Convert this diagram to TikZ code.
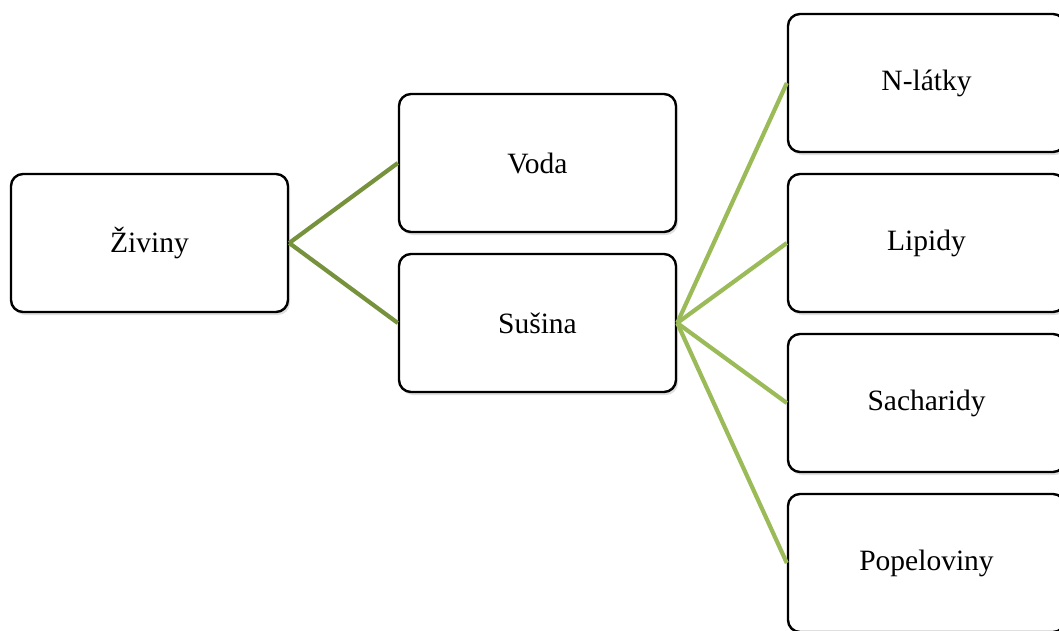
\documentclass[tikz,border=0pt]{standalone}
\usepackage{fontspec}
\setmainfont{Liberation Serif}
\usetikzlibrary{shadows}
\definecolor{linkdark}{RGB}{118,146,60}
\definecolor{linklight}{RGB}{155,187,89}
\tikzset{
  box/.style={draw=black, line width=2.4pt, rounded corners=12pt, fill=white,
    minimum width=277pt, minimum height=138pt, inner sep=0pt,
    font=\fontsize{29.5}{33}\selectfont,
    drop shadow={opacity=0.25, shadow xshift=2pt, shadow yshift=-3pt}},
  linkA/.style={draw=linkdark, line width=4.2pt},
  linkB/.style={draw=linklight, line width=4.2pt}
}
\begin{document}
\begin{tikzpicture}[x=1pt,y=-1pt]
\useasboundingbox (0,0) rectangle (1059,630);
\node[box] (ziv) at (149.5,243) {Živiny};
\node[box] (voda) at (537.5,163) {Voda};
\node[box] (sus) at (537.5,323) {Sušina};
\node[box] (nl) at (926.5,83) {N-látky};
\node[box] (lip) at (926.5,243) {Lipidy};
\node[box] (sach) at (926.5,403) {Sacharidy};
\node[box] (pop) at (926.5,563) {Popeloviny};
\draw[linkA] (ziv.east) -- (voda.west);
\draw[linkA] (ziv.east) -- (sus.west);
\draw[linkB] (sus.east) -- (nl.west);
\draw[linkB] (sus.east) -- (lip.west);
\draw[linkB] (sus.east) -- (sach.west);
\draw[linkB] (sus.east) -- (pop.west);
\end{tikzpicture}
\end{document}
